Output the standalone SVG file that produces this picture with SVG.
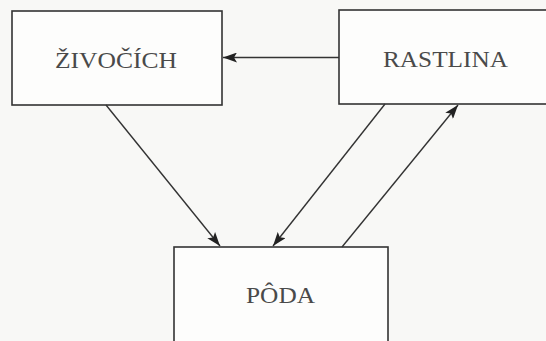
<svg xmlns="http://www.w3.org/2000/svg" width="546" height="341" viewBox="0 0 546 341">
<defs>
<marker id="ah" viewBox="0 0 14 10" refX="14" refY="5" markerWidth="14" markerHeight="10" markerUnits="userSpaceOnUse" orient="auto">
<path d="M0,0 L14,5 L0,10 L3,5 Z" fill="#222"/>
</marker>
</defs>
<style>
.box{fill:#fdfdfc;stroke:#333;stroke-width:1.6}
.lbl{font-family:"Liberation Serif","Times New Roman",serif;font-size:23px;fill:#4a4a4a;text-anchor:middle}
.con{stroke:#333;stroke-width:1.4;fill:none;marker-end:url(#ah)}
</style>
<rect width="546" height="341" fill="#f8f8f6"/>
<g id="zivocich">
<rect class="box" x="12" y="11" width="210" height="94"/>
<text class="lbl" x="116" y="68" textLength="122" lengthAdjust="spacingAndGlyphs">ŽIVOČÍCH</text>
</g>
<g id="rastlina">
<rect class="box" x="339" y="10" width="215" height="94"/>
<text class="lbl" x="445.5" y="67" textLength="125" lengthAdjust="spacingAndGlyphs">RASTLINA</text>
</g>
<g id="poda">
<rect class="box" x="174" y="247" width="214" height="100"/>
<text class="lbl" x="280.5" y="303" textLength="69" lengthAdjust="spacingAndGlyphs">PÔDA</text>
</g>
<g id="connectors">
<line class="con" x1="339" y1="57.5" x2="223" y2="57.5"/>
<line class="con" x1="106" y1="105" x2="220" y2="246"/>
<line class="con" x1="385" y1="104" x2="273" y2="246"/>
<line class="con" x1="342" y1="247" x2="458" y2="105"/>
</g>
</svg>
